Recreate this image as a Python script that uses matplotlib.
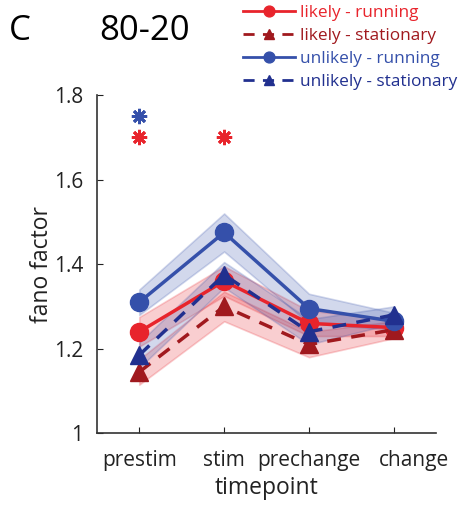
import numpy as np
import matplotlib.pyplot as plt
import matplotlib.transforms as mtransforms

plt.rcParams['font.family'] = ['Open Sans', 'DejaVu Sans']

timepoints = ['prestim', 'stim', 'prechange', 'change']
series_names = ['likely - running', 'likely - stationary', 'unlikely - running', 'unlikely - stationary']
likely_running = [1.24, 1.36, 1.26, 1.25]
likely_running_sem = [0.035, 0.035, 0.03, 0.02]
likely_stationary = [1.145, 1.30, 1.21, 1.245]
likely_stationary_sem = [0.03, 0.035, 0.03, 0.02]
unlikely_running = [1.31, 1.475, 1.295, 1.265]
unlikely_running_sem = [0.03, 0.045, 0.035, 0.02]
unlikely_stationary = [1.185, 1.375, 1.24, 1.28]
unlikely_stationary_sem = [0.03, 0.03, 0.03, 0.02]
star_x = [1, 1, 2]
star_y = [1.75, 1.70, 1.70]
star_group = ['unlikely', 'likely', 'likely']

red = '#e8242c'
darkred = '#a0191e'
blue = '#3550aa'
darkblue = '#21308f'

fig = plt.figure(figsize=(4.68, 5.17), dpi=100)
ax = fig.add_axes([0.207, 0.162, 0.725, 0.654])

x = np.arange(1, 5)
series = [
    (likely_running, likely_running_sem, red, 'o', '-'),
    (likely_stationary, likely_stationary_sem, darkred, '^', (0, (4, 3))),
    (unlikely_running, unlikely_running_sem, blue, 'o', '-'),
    (unlikely_stationary, unlikely_stationary_sem, darkblue, '^', (0, (4, 3))),
]
band_colors = [red, red, blue, blue]
handles = []
for (vals, sem, col, mk, ls), bc in zip(series, band_colors):
    vals = np.array(vals)
    sem = np.array(sem)
    ax.fill_between(x, vals - sem, vals + sem, facecolor=bc, alpha=0.22,
                    edgecolor=bc, linewidth=1.2)
for (vals, sem, col, mk, ls), name in zip(series, series_names):
    h, = ax.plot(x, vals, color=col, linestyle=ls, linewidth=2.5, marker=mk,
                 markersize=13, label=name)
    handles.append(h)

for sx, sy, g in zip(star_x, star_y, star_group):
    ax.plot(sx, sy, marker=(8, 2, 0), color=red if g == 'likely' else blue,
            markersize=11, markeredgewidth=2, linestyle='none')

ax.set_xlim(0.5, 4.5)
ax.set_ylim(1, 1.8)
ax.set_xticks(x)
ax.set_xticklabels(timepoints)
ax.set_yticks([1, 1.2, 1.4, 1.6, 1.8])
ax.set_yticklabels(['1', '1.2', '1.4', '1.6', '1.8'])
ax.tick_params(direction='in', length=4, labelsize=15, colors='#222222', pad=10)
ax.tick_params(axis='x', pad=12)
# last label sits a bit right of its tick in the reference
last = ax.get_xticklabels()[-1]
last.set_transform(last.get_transform() + mtransforms.ScaledTranslation(0.2, 0, fig.dpi_scale_trans))
for s in ['top', 'right']:
    ax.spines[s].set_visible(False)
for s in ['left', 'bottom']:
    ax.spines[s].set_color('#333333')
    ax.spines[s].set_linewidth(1.2)
ax.set_xlabel('timepoint', fontsize=16.5, color='#222222', labelpad=4)
ax.set_ylabel('fano factor', fontsize=16.5, color='#222222', labelpad=0)

fig.text(0.02, 0.94, 'C', fontsize=25, va='center')
fig.text(0.212, 0.94, '80-20', fontsize=25, va='center')

leg = fig.legend(handles=handles, loc='upper left', bbox_to_anchor=(0.487, 1.02),
                 frameon=False, fontsize=12.4, handlelength=3.0, handletextpad=0.3,
                 labelspacing=0.4, markerscale=0.6)
for t, h in zip(leg.get_texts(), handles):
    t.set_color(h.get_color())
for line in leg.get_lines():
    line.set_linewidth(2)

fig.savefig('out.png', dpi=100)
